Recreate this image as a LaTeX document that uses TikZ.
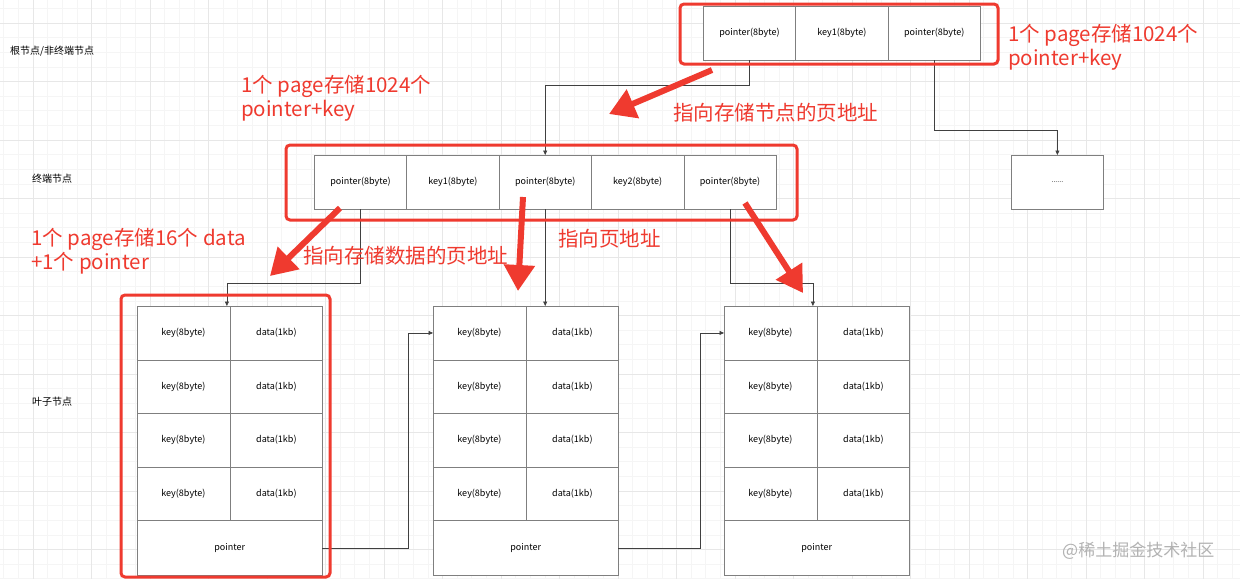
\documentclass[tikz,border=0pt]{standalone}
\usepackage{fontspec}
\setmainfont{Noto Sans CJK SC}
\usetikzlibrary{arrows.meta,positioning}
\definecolor{notered}{HTML}{EF3A2F}
\definecolor{cellgray}{HTML}{7F7F7F}
\definecolor{gridmajor}{HTML}{E7E7E7}
\definecolor{gridfaint}{HTML}{F5F5F5}

\begin{document}
\begin{tikzpicture}[x=1pt,y=-1pt,
  cell/.style={draw=cellgray,fill=white,anchor=north west,inner sep=0pt,minimum width=92.4pt,minimum height=54pt,font=\fontsize{9}{10}\selectfont},
  leafcell/.style={cell,minimum width=92.5pt,minimum height=53.5pt},
  ptrcell/.style={cell,minimum width=185pt,minimum height=55pt},
  link/.style={draw=black!75,line width=.6pt,-{Triangle[length=4.5pt,width=4pt]}},
  redframe/.style={draw=notered,line width=3pt,rounded corners=4pt},
  redarrow/.style={draw=notered,line width=6pt,-{Triangle[length=26pt,width=30pt]}},
  note/.style={text=notered,font=\fontsize{20.5}{24}\selectfont,align=left,anchor=west,inner sep=0pt},
  level/.style={font=\fontsize{10}{12}\selectfont,anchor=west,inner sep=0pt}]
\path[fill=white] (0,0) rectangle (1240,579);
\useasboundingbox (0,0) rectangle (1240,579);
\foreach \k in {0,...,84} \draw[gridfaint,line width=.6pt] ({3.75+14.625*\k},0) -- +(0,579);
\foreach \k in {0,...,39} \draw[gridfaint,line width=.6pt] (0,{8.4+14.625*\k}) -- +(1240,0);
\foreach \k in {0,...,21} \draw[gridmajor,line width=.6pt] ({33+58.5*\k},0) -- +(0,579);
\foreach \k in {0,...,9} \draw[gridmajor,line width=.6pt] (0,{23+58.5*\k}) -- +(1240,0);

\node[level] (lv1) at (10,51) {根节点/非终端节点};
\node[level] (lv2) at (32,179) {终端节点};
\node[level] (lv3) at (32,402) {叶子节点};

\foreach \t [count=\i] in {pointer(8byte),key1(8byte),pointer(8byte)}
  \node[cell] (r\i) at ({703+92.4*(\i-1)},6) {\t};
\foreach \t [count=\i] in {pointer(8byte),key1(8byte),pointer(8byte),key2(8byte),pointer(8byte)}
  \node[cell] (m\i) at ({314+92.4*(\i-1)},155) {\t};
\node[cell,font=\fontsize{7}{8}\selectfont] (more) at (1011,155) {......};

\foreach \i/\x in {1/137,2/433,3/724}{
  \foreach \j in {1,...,4}{
    \node[leafcell] (k\i\j) at (\x,{306+53.5*(\j-1)}) {key(8byte)};
    \node[leafcell] (d\i\j) at (k\i\j.north east) {data(1kb)};
  }
  \node[ptrcell] (p\i) at (k\i4.south west) {pointer};
}

\draw[link] (r1.south) -- ++(0,25) -| (m3.north);
\draw[link] (r3.south) -- ++(0,70) -| (more.north);
\draw[link] (m1.south) -- ++(0,74) -| ([xshift=-3pt]k11.north east);
\draw[link] (m3.south) -- (m3.south |- d21.north);
\draw[link] (m5.south) -- ++(0,74) -| ([xshift=-4pt]k31.north east);
\draw[link] (p1.east) -- ++(86,0) |- (k21.west);
\draw[link] (p2.east) -- ++(82,0) |- (k31.west);

\draw[redframe] (680,4) rectangle (998,64);
\draw[redframe] (286,145) rectangle (797,220);
\draw[redframe] (121,295) rectangle (330,577);
\draw[redarrow] (712,70) -- (609,114);
\draw[redarrow] (340,208) -- (270,276);
\draw[redarrow] (523,197) -- (518,291);
\draw[redarrow] (745,203) -- (803,293);

\node[note] (n1) at (1008,47) {1个 page存储1024个\\pointer+key};
\node[note] (n2) at (241,98.5) {1个 page存储1024个\\pointer+key};
\node[note] (n3) at (673,113) {指向存储节点的页地址};
\node[note] (n4) at (31,251) {1个 page存储16个 data\\+1个 pointer};
\node[note] (n5) at (303,256) {指向存储数据的页地址};
\node[note] (n6) at (558,239) {指向页地址};
\node[anchor=west,inner sep=0pt,text=black!30,font=\fontsize{17}{20}\selectfont] (mark) at (1062,551) {@稀土掘金技术社区};
\end{tikzpicture}
\end{document}
